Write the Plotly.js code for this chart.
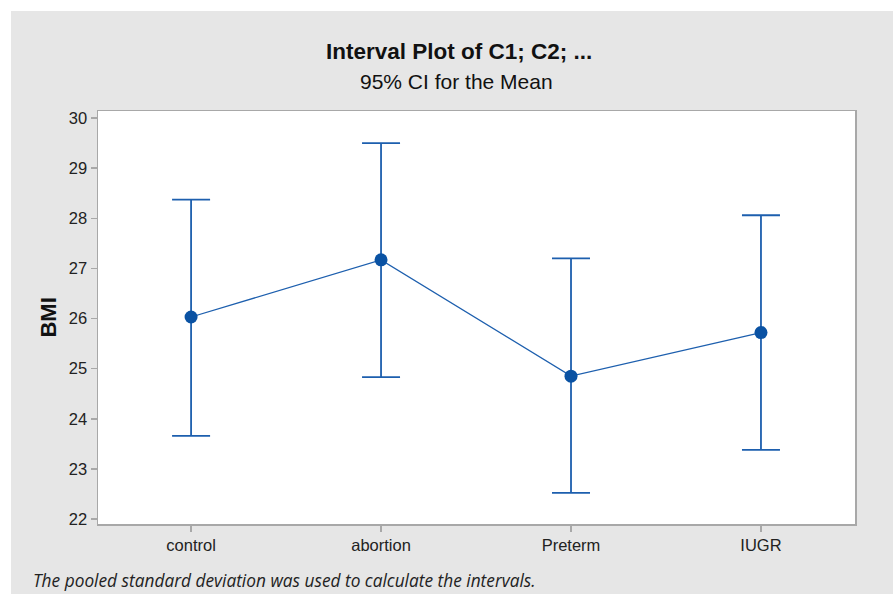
<!DOCTYPE html>
<html><head><meta charset="utf-8">
<script src="https://cdn.plot.ly/plotly-3.0.1.min.js"></script>
<style>
html,body{margin:0;padding:0;background:#ffffff;}
#chart{position:absolute;left:11px;top:11px;width:882px;height:583px;}
</style></head>
<body><div id="chart"></div>
<script>
const categories = ["control", "abortion", "Preterm", "IUGR"];
const means = [26.03, 27.17, 24.85, 25.72];
const upper = [28.37, 29.50, 27.20, 28.06];
const lower = [23.66, 24.83, 22.52, 23.38];
const yTicks = [22, 23, 24, 25, 26, 27, 28, 29, 30];

const plus = upper.map((u, i) => u - means[i]);
const minus = means.map((m, i) => m - lower[i]);
const xIdx = categories.map((c, i) => i);

const blue = "#1d5fae";
const font = "Liberation Sans, Arial, sans-serif";

const trace = {
  x: xIdx, y: means, type: "scatter", mode: "lines+markers",
  line: {color: blue, width: 1.3},
  marker: {color: "#0a52a3", size: 13},
  error_y: {type: "data", symmetric: false, array: plus, arrayminus: minus,
            color: blue, thickness: 1.8, width: 19},
  hoverinfo: "none"
};

const layout = {
  width: 882, height: 583,
  paper_bgcolor: "#e6e6e6", plot_bgcolor: "#ffffff",
  margin: {l: 87, r: 38, t: 100, b: 70},
  showlegend: false,
  font: {family: font, color: "#222222", size: 16.5},
  xaxis: {
    range: [-0.49, 3.495], tickvals: xIdx, ticktext: categories,
    showgrid: false, zeroline: false, showline: true, mirror: true,
    linecolor: "#a8a8a8", linewidth: 1.5,
    ticks: "outside", ticklen: 6, tickcolor: "#a8a8a8", tickwidth: 1.5,
    tickfont: {size: 16.5, color: "#222222"}
  },
  yaxis: {
    range: [21.9, 30.14], tickvals: yTicks,
    showgrid: false, zeroline: false, showline: true, mirror: true,
    linecolor: "#a8a8a8", linewidth: 1.5,
    ticks: "outside", ticklen: 6, tickcolor: "#a8a8a8", tickwidth: 1.5,
    tickfont: {size: 16.5, color: "#222222"}
  },
  annotations: [
    {text: "<b>Interval Plot of C1; C2; ...</b>", xref: "paper", yref: "paper",
     x: 0.477, y: 1.143, xanchor: "center", yanchor: "middle", showarrow: false,
     font: {size: 22.5, color: "#111111", family: font}},
    {text: "95% CI for the Mean", xref: "paper", yref: "paper",
     x: 0.474, y: 1.0726, xanchor: "center", yanchor: "middle", showarrow: false,
     font: {size: 21, color: "#111111", family: font}},
    {text: "<b>BMI</b>", xref: "paper", yref: "paper", textangle: -90,
     x: -0.066, y: 0.5, xanchor: "center", yanchor: "middle", showarrow: false,
     font: {size: 22, color: "#111111", family: font}},
    {text: "<i>The pooled standard deviation was used to calculate the intervals.</i>",
     xref: "paper", yref: "paper", x: -0.0885, y: -0.1356,
     xanchor: "left", yanchor: "middle", showarrow: false,
     font: {size: 17.3, color: "#222222", family: "Open Sans, sans-serif"}}
  ]
};

Plotly.newPlot("chart", [trace], layout, {displayModeBar: false, staticPlot: true});
</script></body></html>
